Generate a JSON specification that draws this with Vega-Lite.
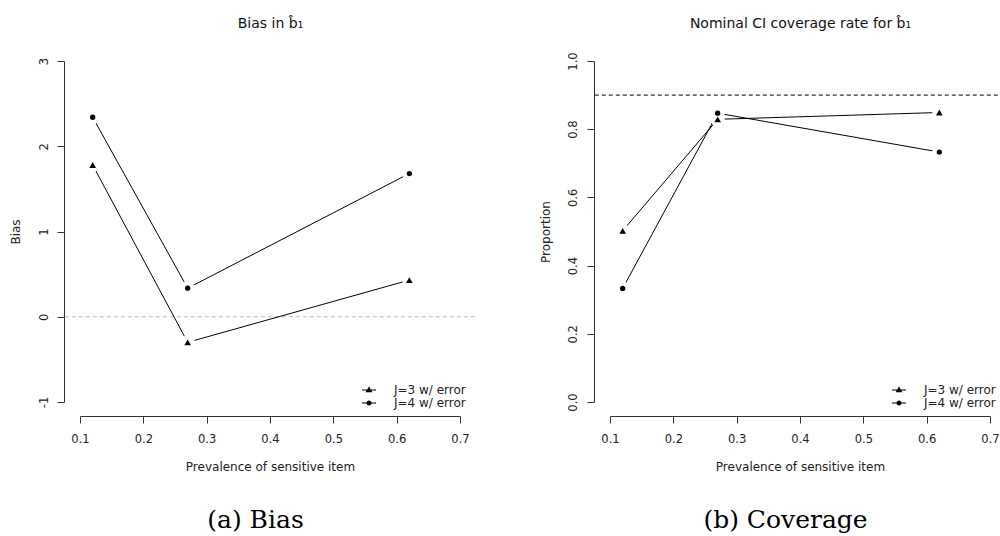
{
  "$schema": "https://vega.github.io/schema/vega-lite/v6.json",
  "padding": {"left": 9, "top": 16, "right": 0, "bottom": 0},
  "bounds": "flush",
  "spacing": 150,
  "datasets": {
    "bias": [
      {"prev": 0.12, "value": 1.78, "series": "J=3 w/ error"},
      {"prev": 0.27, "value": -0.30, "series": "J=3 w/ error"},
      {"prev": 0.62, "value": 0.43, "series": "J=3 w/ error"},
      {"prev": 0.12, "value": 2.34, "series": "J=4 w/ error"},
      {"prev": 0.27, "value": 0.335, "series": "J=4 w/ error"},
      {"prev": 0.62, "value": 1.68, "series": "J=4 w/ error"}
    ],
    "cov": [
      {"prev": 0.12, "value": 0.502, "series": "J=3 w/ error"},
      {"prev": 0.27, "value": 0.829, "series": "J=3 w/ error"},
      {"prev": 0.62, "value": 0.849, "series": "J=3 w/ error"},
      {"prev": 0.12, "value": 0.333, "series": "J=4 w/ error"},
      {"prev": 0.27, "value": 0.847, "series": "J=4 w/ error"},
      {"prev": 0.62, "value": 0.733, "series": "J=4 w/ error"}
    ]
  },
  "config": {
    "view": {"stroke": null},
    "font": "DejaVu Sans",
    "axis": {
      "labelFont": "DejaVu Sans", "labelFontSize": 11.5, "labelColor": "#222",
      "titleFont": "DejaVu Sans", "titleFontSize": 12, "titleFontWeight": "normal", "titleColor": "#222",
      "domainColor": "#333", "tickColor": "#333", "tickSize": 7, "grid": false,
      "labelFlush": false, "labelOverlap": false
    },
    "legend": {
      "labelFont": "DejaVu Sans", "labelFontSize": 12, "labelColor": "#222",
      "symbolSize": 196, "labelOffset": 18, "rowPadding": 0, "padding": 0
    }
  },
  "hconcat": [
    {
      "width": 380, "height": 341,
      "data": {"name": "bias"},
      "title": {"text": "(a) Bias", "orient": "bottom", "font": "DejaVu Serif", "fontSize": 25, "fontWeight": "normal", "color": "black", "baseline": "alphabetic", "offset": 56, "dx": -14.5, "anchor": "middle"},
      "layer": [
        {
          "data": {"values": [{"ref": 0}]},
          "mark": {"type": "rule", "color": "#bbbbbb", "strokeDash": [4, 3], "strokeWidth": 1},
          "encoding": {
            "y": {"field": "ref", "type": "quantitative"},
            "x": {"datum": 0.076, "type": "quantitative", "axis": {"orient": "top", "domain": false, "ticks": false, "labels": false, "title": "Bias in b̂₁", "titleFontSize": 14, "titleColor": "#111", "titleBaseline": "alphabetic", "titleY": -34, "titleX": 190, "titleAlign": "center"}},
            "x2": {"datum": 0.724}
          }
        },
        {
          "mark": {"type": "line", "color": "black", "strokeWidth": 1},
          "encoding": {
            "x": {"field": "prev", "type": "quantitative", "scale": {"domain": [0.1, 0.7], "nice": false, "zero": false},
              "axis": {"orient": "bottom", "offset": 14, "values": [0.1, 0.2, 0.3, 0.4, 0.5, 0.6, 0.7], "format": ".1f", "labelBaseline": "alphabetic", "labelPadding": 19, "title": "Prevalence of sensitive item", "titleBaseline": "alphabetic", "titleY": 54, "titleX": 190, "titleAlign": "center"}},
            "y": {"field": "value", "type": "quantitative", "scale": {"domain": [-1, 3], "nice": false, "zero": false},
              "axis": {"offset": 16, "values": [-1, 0, 1, 2, 3], "labelExpr": "'' + datum.value", "labelAngle": -90, "labelAlign": "center", "labelBaseline": "alphabetic", "labelPadding": 10, "title": "Bias", "titleAngle": -90, "titleBaseline": "alphabetic", "titleX": -44.6, "titleY": 170.5, "titleAlign": "center"}},
            "detail": {"field": "series"}
          }
        },
        {
          "mark": {"type": "point", "shape": "circle", "filled": true, "color": "white", "size": 200, "opacity": 1},
          "encoding": {
            "x": {"field": "prev", "type": "quantitative", "axis": null},
            "y": {"field": "value", "type": "quantitative"}
          }
        },
        {
          "transform": [{"filter": "datum.series == 'J=3 w/ error'"}],
          "mark": {"type": "point", "shape": "triangle-up", "filled": true, "color": "black", "size": 45, "opacity": 1},
          "encoding": {
            "x": {"field": "prev", "type": "quantitative", "axis": null},
            "y": {"field": "value", "type": "quantitative"}
          }
        },
        {
          "transform": [{"filter": "datum.series == 'J=4 w/ error'"}],
          "mark": {"type": "point", "shape": "circle", "filled": true, "color": "black", "size": 28, "opacity": 1},
          "encoding": {
            "x": {"field": "prev", "type": "quantitative", "axis": null},
            "y": {"field": "value", "type": "quantitative"}
          }
        },
        {
          "transform": [{"filter": "false"}],
          "mark": {"type": "point", "filled": true, "color": "black", "opacity": 1},
          "encoding": {
            "x": {"field": "prev", "type": "quantitative", "axis": null},
            "y": {"field": "value", "type": "quantitative"},
            "shape": {"field": "series", "type": "nominal",
              "scale": {"domain": ["J=3 w/ error", "J=4 w/ error"], "range": ["M-1,-0.07L1,-0.07L1,0.07L-1,0.07ZM0,-0.5L0.5,0.33L-0.5,0.33Z", "M-1,-0.07L1,-0.07L1,0.07L-1,0.07ZM0.36,0A0.36,0.36,0,1,1,-0.36,0A0.36,0.36,0,1,1,0.36,0Z"]},
              "legend": {"orient": "none", "legendX": 282, "legendY": 322, "title": null, "symbolSize": 196, "labelOffset": 18, "symbolFillColor": "black", "symbolStrokeWidth": 0}}
          }
        }
      ],
      "resolve": {"scale": {"shape": "independent"}, "axis": {"x": "independent"}}
    },
    {
      "width": 380, "height": 341,
      "data": {"name": "cov"},
      "title": {"text": "(b) Coverage", "orient": "bottom", "font": "DejaVu Serif", "fontSize": 25, "fontWeight": "normal", "color": "black", "baseline": "alphabetic", "offset": 56, "dx": -14.5, "anchor": "middle"},
      "layer": [
        {
          "data": {"values": [{"ref": 0.9}]},
          "mark": {"type": "rule", "color": "black", "strokeDash": [4, 3], "strokeWidth": 1},
          "encoding": {
            "y": {"field": "ref", "type": "quantitative"},
            "x": {"datum": 0.076, "type": "quantitative", "axis": {"orient": "top", "domain": false, "ticks": false, "labels": false, "title": "Nominal CI coverage rate for b̂₁", "titleFontSize": 14, "titleColor": "#111", "titleBaseline": "alphabetic", "titleY": -34, "titleX": 190, "titleAlign": "center"}},
            "x2": {"datum": 0.724}
          }
        },
        {
          "mark": {"type": "line", "color": "black", "strokeWidth": 1},
          "encoding": {
            "x": {"field": "prev", "type": "quantitative", "scale": {"domain": [0.1, 0.7], "nice": false, "zero": false},
              "axis": {"orient": "bottom", "offset": 14, "values": [0.1, 0.2, 0.3, 0.4, 0.5, 0.6, 0.7], "format": ".1f", "labelBaseline": "alphabetic", "labelPadding": 19, "title": "Prevalence of sensitive item", "titleBaseline": "alphabetic", "titleY": 54, "titleX": 190, "titleAlign": "center"}},
            "y": {"field": "value", "type": "quantitative", "scale": {"domain": [0, 1], "nice": false, "zero": false},
              "axis": {"offset": 16, "values": [0, 0.2, 0.4, 0.6, 0.8, 1.0], "format": ".1f", "labelAngle": -90, "labelAlign": "center", "labelBaseline": "alphabetic", "labelPadding": 10.5, "title": "Proportion", "titleAngle": -90, "titleBaseline": "alphabetic", "titleX": -45, "titleY": 170.5, "titleAlign": "center"}},
            "detail": {"field": "series"}
          }
        },
        {
          "mark": {"type": "point", "shape": "circle", "filled": true, "color": "white", "size": 200, "opacity": 1},
          "encoding": {
            "x": {"field": "prev", "type": "quantitative", "axis": null},
            "y": {"field": "value", "type": "quantitative"}
          }
        },
        {
          "transform": [{"filter": "datum.series == 'J=3 w/ error'"}],
          "mark": {"type": "point", "shape": "triangle-up", "filled": true, "color": "black", "size": 45, "opacity": 1},
          "encoding": {
            "x": {"field": "prev", "type": "quantitative", "axis": null},
            "y": {"field": "value", "type": "quantitative"}
          }
        },
        {
          "transform": [{"filter": "datum.series == 'J=4 w/ error'"}],
          "mark": {"type": "point", "shape": "circle", "filled": true, "color": "black", "size": 28, "opacity": 1},
          "encoding": {
            "x": {"field": "prev", "type": "quantitative", "axis": null},
            "y": {"field": "value", "type": "quantitative"}
          }
        },
        {
          "transform": [{"filter": "false"}],
          "mark": {"type": "point", "filled": true, "color": "black", "opacity": 1},
          "encoding": {
            "x": {"field": "prev", "type": "quantitative", "axis": null},
            "y": {"field": "value", "type": "quantitative"},
            "shape": {"field": "series", "type": "nominal",
              "scale": {"domain": ["J=3 w/ error", "J=4 w/ error"], "range": ["M-1,-0.07L1,-0.07L1,0.07L-1,0.07ZM0,-0.5L0.5,0.33L-0.5,0.33Z", "M-1,-0.07L1,-0.07L1,0.07L-1,0.07ZM0.36,0A0.36,0.36,0,1,1,-0.36,0A0.36,0.36,0,1,1,0.36,0Z"]},
              "legend": {"orient": "none", "legendX": 282, "legendY": 322, "title": null, "symbolSize": 196, "labelOffset": 18, "symbolFillColor": "black", "symbolStrokeWidth": 0}}
          }
        }
      ],
      "resolve": {"scale": {"shape": "independent"}, "axis": {"x": "independent"}}
    }
  ]
}
